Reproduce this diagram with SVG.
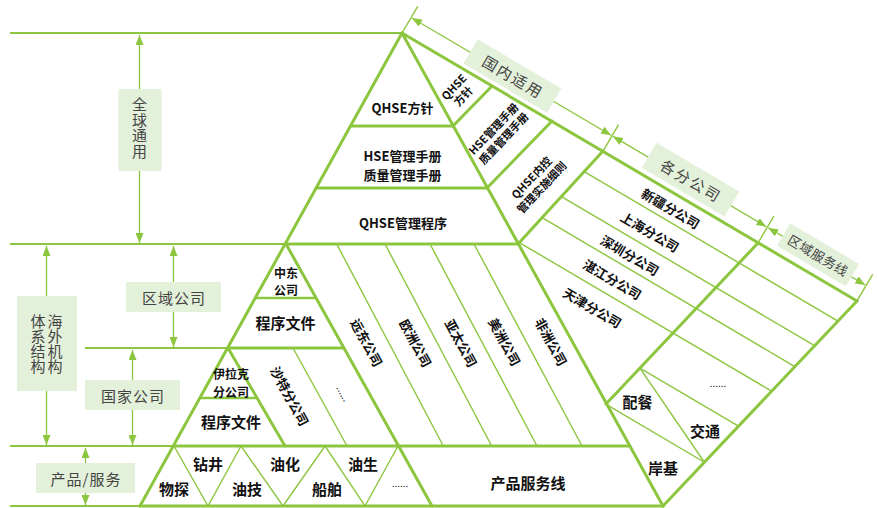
<svg xmlns="http://www.w3.org/2000/svg" width="877" height="508" viewBox="0 0 877 508">
<defs>
<marker id="ah" viewBox="0 0 10 8" refX="10" refY="4" markerWidth="10" markerHeight="8" markerUnits="userSpaceOnUse" orient="auto-start-reverse">
<path d="M0,0 L10,4 L0,8 Z" fill="#8cc63f"/>
</marker>
<style>
.tk{stroke:#8cc63f;stroke-width:3;fill:none;stroke-linecap:round}
.md{stroke:#8cc63f;stroke-width:2;fill:none}
.tn{stroke:#8cc63f;stroke-width:1.4;fill:none}
.ar{stroke:#8cc63f;stroke-width:1.3;fill:none;marker-start:url(#ah);marker-end:url(#ah)}
.box{fill:#e3f0da}
.lb{font-family:"Noto Sans CJK SC","Noto Sans",sans-serif;font-size:15px;fill:#444;text-anchor:middle;dominant-baseline:central}
.vl{font-family:"Noto Sans CJK SC","Noto Sans",sans-serif;font-size:15px;fill:#444;text-anchor:middle;writing-mode:vertical-rl}
.t{font-family:"Noto Sans CJK SC","Noto Sans",sans-serif;font-weight:700;fill:#111;text-anchor:middle;dominant-baseline:central;font-size:13px}
.t15{font-size:15px}
.t12{font-size:12px}
.t11{font-size:11px}
</style>
</defs>

<g id="connectors">
<line class="md" x1="10" y1="33" x2="402" y2="33"/>
<line class="md" x1="10" y1="244" x2="286" y2="244"/>
<line class="md" x1="85" y1="348" x2="228" y2="348"/>
<line class="md" x1="10" y1="446" x2="174" y2="446"/>
<line class="md" x1="10" y1="506" x2="140" y2="506"/>
<line class="ar" x1="139.5" y1="35" x2="139.5" y2="243"/>
<line class="ar" x1="46.5" y1="246" x2="46.5" y2="445"/>
<line class="ar" x1="173.5" y1="246" x2="173.5" y2="347"/>
<line class="ar" x1="132.5" y1="350" x2="132.5" y2="445"/>
<line class="ar" x1="85.5" y1="448" x2="85.5" y2="505"/>
<line class="tn" x1="336.7" y1="244" x2="443.3" y2="446"/>
<line class="tn" x1="385" y1="244" x2="491.7" y2="446"/>
<line class="tn" x1="430" y1="244" x2="537" y2="446"/>
<line class="tn" x1="474" y1="244" x2="582" y2="446"/>
<line class="tn" x1="293" y1="348" x2="347" y2="446"/>
<polyline class="tn" points="174,446 208,506 241,446 283,506 325,446 365,506 398,446"/>
<g transform="translate(402,33) rotate(30.5)">
<line class="tn" x1="227.4" y1="27" x2="521.8" y2="27"/>
<line class="tn" x1="220.4" y1="60" x2="514.2" y2="60"/>
<line class="tn" x1="214.4" y1="88" x2="507.8" y2="88"/>
<line class="tn" x1="206" y1="121" x2="500.2" y2="121"/>
<line class="tn" x1="375.1" y1="168" x2="489.5" y2="168"/>
<line class="tn" x1="364.5" y1="216.4" x2="478.4" y2="216.4"/>
<line class="tn" x1="375.1" y1="168" x2="478.4" y2="216.4"/>
<line class="tn" x1="0" y1="0" x2="0" y2="-31"/>
<line class="tn" x1="233.1" y1="0" x2="233.1" y2="-31"/>
<line class="tn" x1="413.3" y1="0" x2="413.3" y2="-31"/>
<line class="tn" x1="528" y1="0" x2="528" y2="-31"/>
<line class="ar" x1="1" y1="-18" x2="232" y2="-18"/>
<line class="ar" x1="234.2" y1="-18" x2="412.2" y2="-18"/>
<line class="ar" x1="414.4" y1="-18" x2="527" y2="-18"/>
</g>
<line class="tk" x1="402" y1="33" x2="140" y2="506"/>
<line class="tk" x1="402" y1="33" x2="663" y2="506"/>
<line class="tk" x1="402" y1="33" x2="857" y2="301"/>
<line class="tk" x1="857" y1="301" x2="663" y2="506"/>
<line class="tk" x1="286" y1="244" x2="432" y2="506"/>
<line class="tk" x1="453" y1="126" x2="492" y2="86"/>
<line class="tk" x1="487" y1="188" x2="552" y2="121"/>
<line class="tk" x1="518" y1="244" x2="603" y2="151"/>
<line class="tk" x1="606" y1="404" x2="758" y2="243"/>
<line class="tk" x1="351" y1="126" x2="453" y2="126"/>
<line class="tk" x1="316" y1="188" x2="487" y2="188"/>
<line class="tk" x1="286" y1="244" x2="518" y2="244"/>
<line class="tk" x1="255.5" y1="298" x2="316" y2="298" style="stroke-width:2.5"/>
<line class="tk" x1="228" y1="348" x2="343" y2="348"/>
<line class="tk" x1="228" y1="348" x2="285" y2="446"/>
<line class="tk" x1="200.5" y1="398" x2="257" y2="398" style="stroke-width:2.5"/>
<line class="tk" x1="174" y1="446" x2="630" y2="446"/>
<line class="tk" x1="140" y1="506" x2="663" y2="506"/>
</g>

<g id="label-global">
<rect class="box" x="118.5" y="89" width="43" height="82"/>
<text class="vl" x="139.5" y="128" letter-spacing="0.4">全球通用</text>
</g>
<g id="label-overseas">
<rect class="box" x="17" y="296" width="60" height="95"/>
<text class="vl" x="55" y="344">海外机构</text>
<text class="vl" x="38" y="344">体系结构</text>
</g>
<g id="label-region">
<rect class="box" x="126" y="282" width="95" height="30"/>
<text class="lb" x="174" y="297" letter-spacing="1">区域公司</text>
</g>
<g id="label-country">
<rect class="box" x="85" y="380" width="95" height="30"/>
<text class="lb" x="133" y="395" letter-spacing="1">国家公司</text>
</g>
<g id="label-product">
<rect class="box" x="36" y="463" width="99" height="30"/>
<text class="lb" x="86" y="478" letter-spacing="1">产品/服务</text>
</g>

<g transform="translate(402,33) rotate(30.5)">
<g id="label-domestic">
<rect class="box" x="68.5" y="-33" width="97" height="28"/>
<text class="lb" x="118" y="-19" letter-spacing="2">国内适用</text>
</g>
<g id="label-branches">
<rect class="box" x="275" y="-34.5" width="96" height="29"/>
<text class="lb" x="324" y="-20" letter-spacing="2">各分公司</text>
</g>
<g id="label-service">
<rect class="box" x="431" y="-33" width="80" height="26"/>
<text class="lb" x="471.5" y="-20" style="font-size:13px" letter-spacing="0.5">区域服务线</text>
</g>
<g id="branches">
<text class="t" x="320.6" y="14.6">新疆分公司</text>
<text class="t" x="314.5" y="45.3">上海分公司</text>
<text class="t" x="309.1" y="75.6">深圳分公司</text>
<text class="t" x="306.3" y="105.3">湛江分公司</text>
<text class="t" x="303.4" y="139.8">天津分公司</text>
</g>
</g>

<g id="n-policy"><text class="t" x="402.5" y="107">QHSE方针</text></g>
<g id="n-manual"><text class="t"><tspan x="402.5" y="155">HSE管理手册</tspan><tspan x="402.5" y="173.5">质量管理手册</tspan></text></g>
<g id="n-procedure"><text class="t" x="403" y="222">QHSE管理程序</text></g>

<g id="n-dom-policy" transform="translate(458,91) rotate(-46.5)">
<text class="t t11"><tspan x="0" y="-6.5">QHSE</tspan><tspan x="0" y="6.5">方针</tspan></text></g>
<g id="n-dom-manual" transform="translate(498,133) rotate(-46.5)">
<text class="t t11"><tspan x="0" y="-7">HSE管理手册</tspan><tspan x="0" y="7">质量管理手册</tspan></text></g>
<g id="n-dom-rules" transform="translate(536,182) rotate(-46.5)">
<text class="t t11"><tspan x="0" y="-7">QHSE内控</tspan><tspan x="0" y="7">管理实施细则</tspan></text></g>

<g id="n-mideast"><text class="t t12"><tspan x="286" y="272">中东</tspan><tspan x="286" y="289">公司</tspan></text></g>
<g id="n-proc1"><text class="t t15" x="285.5" y="322">程序文件</text></g>
<g id="n-iraq"><text class="t t12"><tspan x="231" y="373">伊拉克</tspan><tspan x="231" y="390.5">分公司</tspan></text></g>
<g id="n-proc2"><text class="t t15" x="231" y="421.7">程序文件</text></g>
<g id="n-saudi"><text class="t" transform="translate(290,396) rotate(61.5)">沙特分公司</text></g>
<g id="n-more1"><text class="t" style="font-weight:400;font-size:10px" transform="translate(344,393) rotate(61.5)">......</text></g>

<g id="n-fareast"><text class="t" transform="translate(367,342.5) rotate(61.5)">远东公司</text></g>
<g id="n-europe"><text class="t" transform="translate(416,343) rotate(61.5)">欧洲公司</text></g>
<g id="n-asiapac"><text class="t" transform="translate(461.5,343) rotate(61.5)">亚太公司</text></g>
<g id="n-america"><text class="t" transform="translate(505,341.7) rotate(61.5)">美洲公司</text></g>
<g id="n-africa"><text class="t" transform="translate(551.5,341.7) rotate(61.5)">非洲公司</text></g>

<g id="n-products">
<text class="t t15" x="174" y="488">物探</text>
<text class="t t15" x="208" y="463">钻井</text>
<text class="t t15" x="247" y="488">油技</text>
<text class="t t15" x="285" y="463">油化</text>
<text class="t t15" x="327" y="488">船舶</text>
<text class="t t15" x="363" y="463">油生</text>
<text class="t" style="font-weight:400;font-size:10px" x="400" y="482">......</text>
</g>
<g id="n-productline"><text class="t t15" x="528" y="482">产品服务线</text></g>

<g id="n-services">
<text class="t t15" x="637.5" y="401">配餐</text>
<text class="t t15" x="705" y="430">交通</text>
<text class="t t15" x="663" y="467">岸基</text>
<text class="t" style="font-weight:400;font-size:10px" x="718" y="382">......</text>
</g>
</svg>
